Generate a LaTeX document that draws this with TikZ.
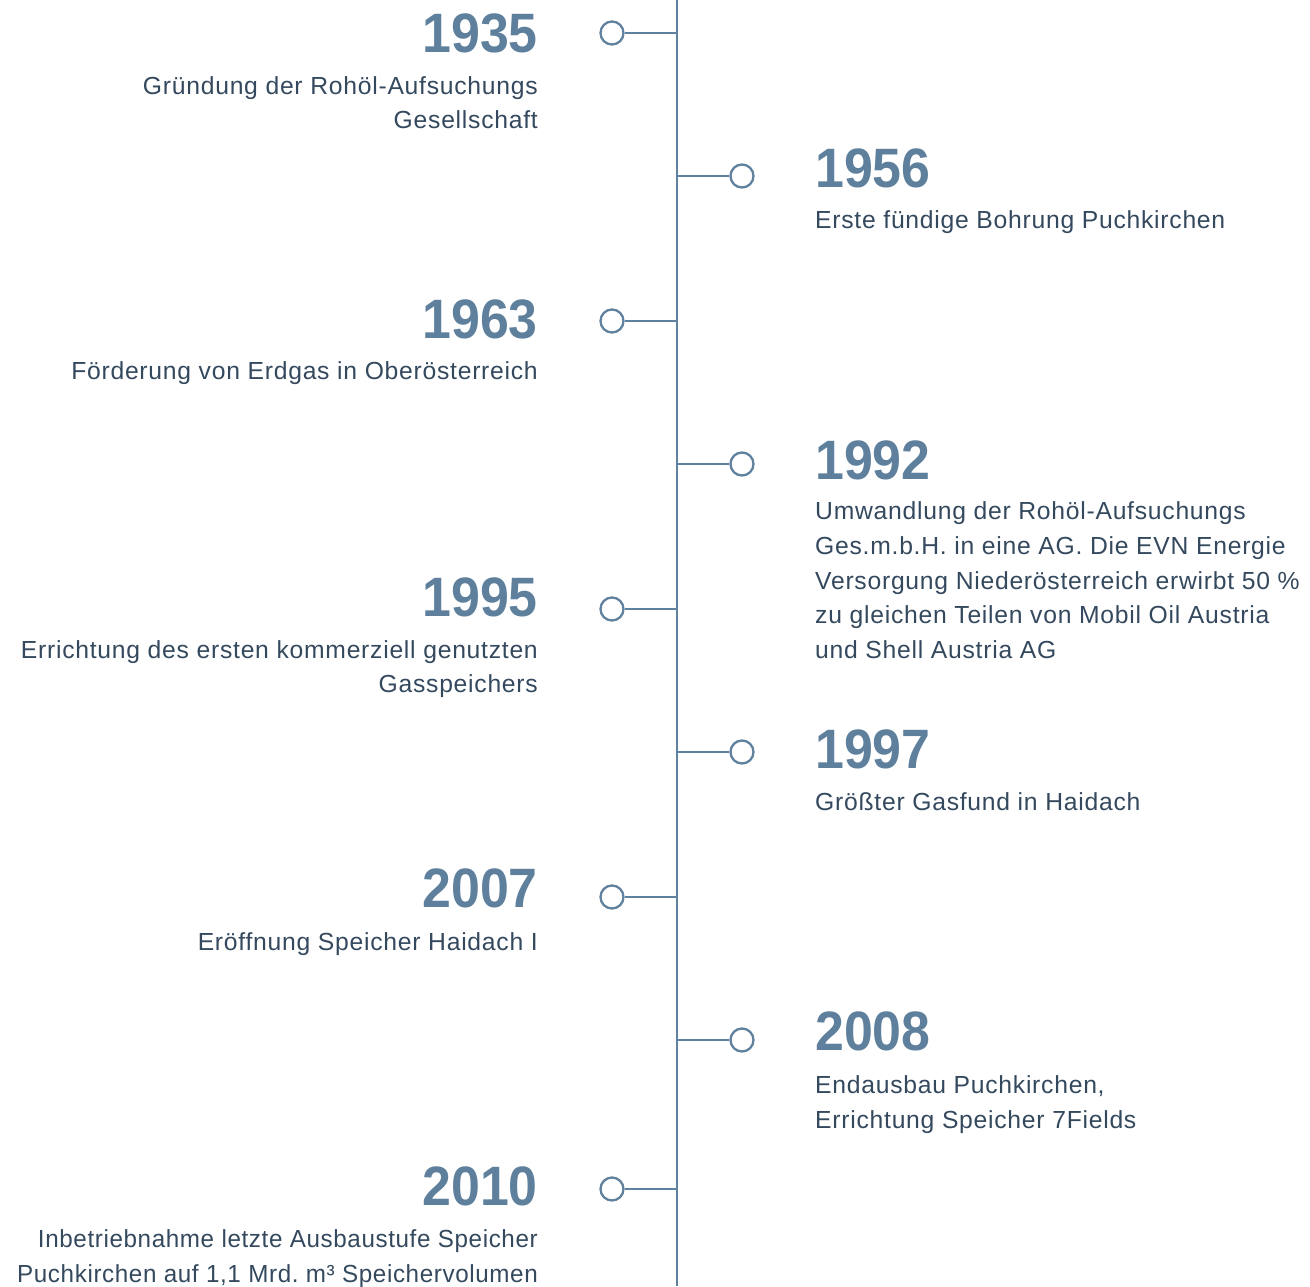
\documentclass[tikz,border=0pt]{standalone}
\usepackage{fontspec}
\setmainfont{Liberation Sans}
\newfontfamily\bodyfont[LetterSpace=3.0]{Liberation Sans}
\newfontfamily\bodycondfont[LetterSpace=2.5,FakeStretch=0.98]{Liberation Sans}
\newfontfamily\yearfont[FakeStretch=0.935]{Liberation Sans}
\definecolor{yearcol}{HTML}{5E809D}
\definecolor{bodycol}{HTML}{34495E}
\definecolor{linecol}{HTML}{5F819E}
\frenchspacing
\tikzset{
  yearL/.style={anchor=base east,inner sep=0,text=yearcol,font=\yearfont\fontsize{55.5}{60}\selectfont\bfseries},
  yearR/.style={anchor=base west,inner sep=0,text=yearcol,font=\yearfont\fontsize{55.5}{60}\selectfont\bfseries},
  bodyL/.style={anchor=base east,inner sep=0,text=bodycol,font=\bodyfont\fontsize{24.7}{30}\selectfont\frenchspacing},
  bodyLc/.style={anchor=base east,inner sep=0,text=bodycol,font=\bodycondfont\fontsize{24.7}{30}\selectfont\frenchspacing},
  bodyR/.style={anchor=base west,inner sep=0,text=bodycol,font=\bodyfont\fontsize{24.7}{30}\selectfont\frenchspacing},
  dot/.style={circle,draw=linecol,line width=2.3pt,fill=white,minimum size=23pt,inner sep=0},
  stub/.style={draw=linecol,line width=2.3pt},
}
\begin{document}
\begin{tikzpicture}[x=1pt,y=-1pt]
\useasboundingbox (0,0) rectangle (1310,1286);
\coordinate (top) at (677,0);
\coordinate (bot) at (677,1286);
\draw[stub] (top) -- (bot);
% left events
\foreach \n/\y in {a/33,c/321,e/609,g/897,i/1189}{
  \node[dot] (dot\n) at (612,\y) {};
  \draw[stub] (dot\n.east) -- (dot\n.east -| top);
}
\foreach \n/\y in {b/176,d/464,f/752,h/1040}{
  \node[dot] (dot\n) at (742,\y) {};
  \draw[stub] (dot\n.west) -- (dot\n.west -| top);
}
% texts left
\node[yearL] (ya) at (538,52) {1935};
\node[bodyL] (ta1) at (538,94) {Gründung der Rohöl-Aufsuchungs};
\node[bodyL] (ta2) at (538,128) {Gesellschaft};
\node[yearL] (yc) at (538,338) {1963};
\node[bodyL] (tc1) at (538,379) {Förderung von Erdgas in Oberösterreich};
\node[yearL] (ye) at (538,616) {1995};
\node[bodyL] (te1) at (538,658) {Errichtung des ersten kommerziell genutzten};
\node[bodyL] (te2) at (538,692) {Gasspeichers};
\node[yearL] (yg) at (538,907) {2007};
\node[bodyL] (tg1) at (538,950) {Eröffnung Speicher Haidach I};
\node[yearL] (yi) at (538,1205) {2010};
\node[bodyLc] (ti1) at (538,1247) {Inbetriebnahme letzte Ausbaustufe Speicher};
\node[bodyLc] (ti2) at (538,1282) {Puchkirchen auf 1,1 Mrd. m³ Speichervolumen};
% texts right
\node[yearR] (yb) at (815,187) {1956};
\node[bodyR] (tb1) at (815,228) {Erste fündige Bohrung Puchkirchen};
\node[yearR] (yd) at (815,479) {1992};
\node[bodyR] (td1) at (815,519) {Umwandlung der Rohöl-Aufsuchungs};
\node[bodyR] (td2) at (815,554) {Ges.m.b.H. in eine AG. Die EVN Energie};
\node[bodyR] (td3) at (815,589) {Versorgung Niederösterreich erwirbt 50 \%};
\node[bodyR] (td4) at (815,623) {zu gleichen Teilen von Mobil Oil Austria};
\node[bodyR] (td5) at (815,658) {und Shell Austria AG};
\node[yearR] (yf) at (815,768) {1997};
\node[bodyR] (tf1) at (815,810) {Größter Gasfund in Haidach};
\node[yearR] (yh) at (815,1050) {2008};
\node[bodyR] (th1) at (815,1093) {Endausbau Puchkirchen,};
\node[bodyR] (th2) at (815,1128) {Errichtung Speicher 7Fields};
\end{tikzpicture}
\end{document}
